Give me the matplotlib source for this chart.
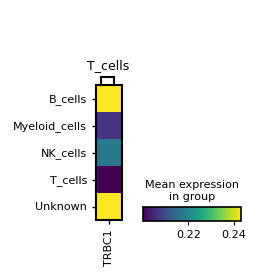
import numpy as np
import matplotlib
matplotlib.use('Agg')
import matplotlib.pyplot as plt

groups = ['B_cells', 'Myeloid_cells', 'NK_cells', 'T_cells', 'Unknown']
genes = ['TRBC1']
mean_expr = [0.2431, 0.2066, 0.2175, 0.2001, 0.2428]
cbar_ticks = [0.22, 0.24]

W, H = 260, 279
fig = plt.figure(figsize=(W / 100, H / 100), dpi=100)

def px_axes(x0, y0, x1, y1):
    return fig.add_axes([x0 / W, 1 - y1 / H, (x1 - x0) / W, (y1 - y0) / H])

vmin, vmax = min(mean_expr), max(mean_expr)

# main heatmap
ax = px_axes(96, 85, 122, 220)
data = np.array(mean_expr).reshape(-1, 1)
im = ax.pcolormesh(np.arange(len(genes) + 1), np.arange(len(groups) + 1), data,
                   cmap='viridis', vmin=vmin, vmax=vmax)
ax.set_ylim(len(groups), 0)
ax.set_xlim(0, len(genes))
ax.set_yticks(np.arange(len(groups)) + 0.5)
ax.set_yticklabels(groups, fontsize=8)
ax.set_xticks(np.arange(len(genes)) + 0.5)
ax.set_xticklabels(genes, fontsize=8, rotation=90)
ax.tick_params(length=3, width=1)
for s in ax.spines.values():
    s.set_linewidth(1.5)

# group bracket
bax = px_axes(96, 55, 122, 85)
bax.set_xlim(0, len(genes))
bax.set_ylim(0, 1)
bax.axis('off')
bax.plot([0.2, 0.2, 0.7, 0.7], [0.0, 0.27, 0.27, 0.0], color='black', lw=1.5,
         solid_joinstyle='miter', clip_on=False)
bax.text(0.45, 0.66, 'T_cells', ha='center', va='center', fontsize=9)

# colorbar
cax = px_axes(143, 207, 241, 221)
cb = fig.colorbar(im, cax=cax, orientation='horizontal')
cb.set_ticks(cbar_ticks)
cb.ax.tick_params(labelsize=8, length=3)
cb.outline.set_linewidth(1.2)
cax.set_title('Mean expression\nin group', fontsize=8, pad=5)

fig.savefig('out.png', dpi=100)
